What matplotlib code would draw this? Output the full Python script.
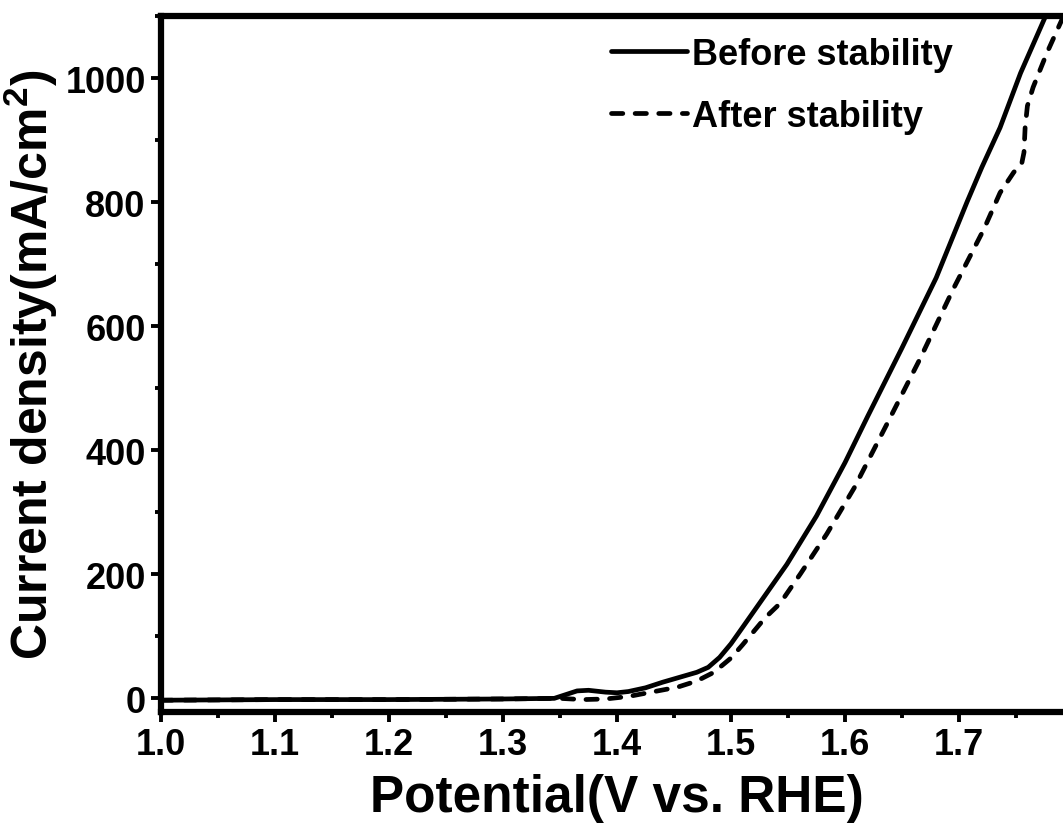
import matplotlib
matplotlib.use("Agg")
import matplotlib.pyplot as plt
from matplotlib import font_manager
from matplotlib.ticker import MultipleLocator
import numpy as np

# font: narrow Arial look if available
names = set(f.name for f in font_manager.fontManager.ttflist)
fam = 'Liberation Sans Narrow' if 'Liberation Sans Narrow' in names else 'Liberation Sans'
plt.rcParams['font.family'] = [fam, 'DejaVu Sans']
plt.rcParams['font.weight'] = 'bold'
plt.rcParams['mathtext.fontset'] = 'custom'
plt.rcParams['mathtext.rm'] = fam + ':bold'
plt.rcParams['mathtext.bf'] = fam + ':bold'

# data
v_before = [1.00, 1.10, 1.20, 1.30, 1.345, 1.355, 1.365, 1.375, 1.39, 1.40,
            1.41, 1.425, 1.44, 1.455, 1.47, 1.48, 1.49, 1.50, 1.51, 1.523,
            1.536, 1.549, 1.562, 1.575, 1.60, 1.62, 1.65, 1.68, 1.707, 1.72,
            1.736, 1.754, 1.776, 1.80]
j_before = [-3, -2, -2, -1, 0, 6, 12, 13, 10, 9,
            11, 17, 26, 34, 42, 50, 66, 88, 114, 148,
            182, 216, 255, 294, 380, 455, 565, 678, 800, 856,
            920, 1008, 1100, 1190]

v_after = [1.00, 1.10, 1.20, 1.30, 1.35, 1.37, 1.39, 1.41, 1.43, 1.453,
           1.47, 1.485, 1.50, 1.51, 1.52, 1.53, 1.543, 1.561, 1.584, 1.608,
           1.637, 1.666, 1.695, 1.722, 1.736, 1.748, 1.755, 1.757, 1.758, 1.760,
           1.765, 1.777, 1.79, 1.80]
j_after = [-3, -2, -2, -1, 0, -2, -1, 3, 10, 18,
           28, 42, 65, 86, 108, 130, 153, 201, 265, 339,
           443, 548, 660, 757, 815, 848, 862, 880, 920, 955,
           985, 1040, 1093, 1135]

labels = ['Before stability', 'After stability']

fig = plt.figure(figsize=(10.63, 8.37), dpi=100)
ax = fig.add_axes([161 / 1063, 124 / 837, 912 / 1063, 696 / 837])

ax.plot(v_before, j_before, color='black', lw=3.4, ls='-', label=labels[0],
        solid_capstyle='round', solid_joinstyle='round')
ax.plot(v_after, j_after, color='black', lw=3.4, ls=(0, (2.4, 2.6)), label=labels[1],
        dash_capstyle='round', dash_joinstyle='round')

ax.set_xlim(1.0, 1.8)
ax.set_ylim(-22, 1100)
ax.xaxis.set_major_locator(MultipleLocator(0.1))
ax.xaxis.set_minor_locator(MultipleLocator(0.05))
ax.yaxis.set_major_locator(MultipleLocator(200))
ax.yaxis.set_minor_locator(MultipleLocator(100))
ax.set_xticks(np.arange(1.0, 1.75, 0.1))
ax.set_xticklabels(['%.1f' % t for t in np.arange(1.0, 1.75, 0.1)])

for s in ax.spines.values():
    s.set_linewidth(4.5)
ax.tick_params(which='major', direction='out', length=7, width=2.8,
               labelsize=26, pad=4)
ax.tick_params(which='minor', direction='out', length=4, width=2.8)
ax.tick_params(top=False, right=False)

ax.set_xlabel('Potential(V vs. RHE)', fontsize=37, fontweight='bold', labelpad=8)
ax.set_ylabel(r'Current density(mA/cm$^\mathbf{2}$)', fontsize=36,
              fontweight='bold', labelpad=4)

leg = ax.legend(loc='upper left', bbox_to_anchor=(611 / 1063, 1 - 38 / 837),
                bbox_transform=fig.transFigure, frameon=False, fontsize=26,
                handlelength=2.1, handletextpad=0.15, labelspacing=0.75,
                borderpad=0, borderaxespad=0)

fig.savefig('out.png', dpi=100)
